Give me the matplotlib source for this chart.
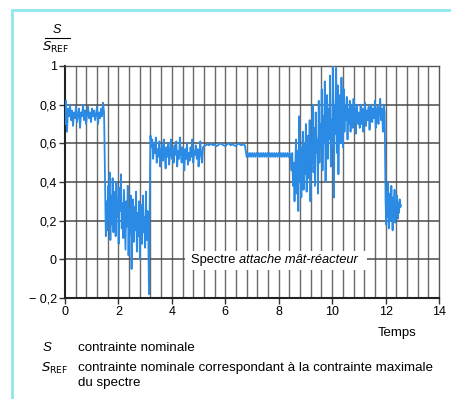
import numpy as np
import matplotlib
matplotlib.use("Agg")
from matplotlib import pyplot as plt
from matplotlib.patches import Rectangle

plt.rcParams['font.family'] = ['Liberation Sans', 'DejaVu Sans']

seg_a = [0.70, 0.82, 0.66, 0.78, 0.74, 0.80, 0.72, 0.77, 0.69, 0.76, 0.73, 0.79, 0.71, 0.75,
         0.78, 0.68, 0.76, 0.74, 0.80, 0.72, 0.77, 0.70, 0.75, 0.79, 0.73, 0.76, 0.71, 0.78,
         0.74, 0.77, 0.72, 0.75, 0.79, 0.70, 0.76, 0.73, 0.78, 0.74, 0.81, 0.76]
seg_b = [0.40, 0.12, 0.30, 0.15, 0.38, 0.20, 0.45, 0.10, 0.33, 0.18, 0.42, 0.14, 0.28, 0.35,
         0.12, 0.40, 0.22, 0.31, 0.08, 0.37, 0.25, 0.44, 0.16, 0.29, 0.11, 0.36, 0.21, 0.05,
         0.30, 0.17, 0.38, 0.02, 0.26, 0.13, 0.33, -0.05, 0.22, 0.31, 0.09, 0.27, 0.15, 0.35,
         0.04, 0.24, 0.12, 0.30, 0.00, 0.20, 0.28, 0.08, 0.33, 0.14, 0.22, 0.06, 0.35, 0.10,
         0.25, 0.18, -0.18, 0.30]
seg_c = [0.64, 0.58, 0.62, 0.52, 0.60, 0.55, 0.63, 0.50, 0.57, 0.53, 0.61, 0.48, 0.56, 0.59,
         0.51, 0.62, 0.54, 0.47, 0.58, 0.53, 0.60, 0.49, 0.55, 0.62, 0.52, 0.57, 0.50, 0.59,
         0.54, 0.61, 0.48, 0.56, 0.52, 0.63, 0.55, 0.50, 0.58, 0.53, 0.46, 0.57, 0.52, 0.60,
         0.49, 0.55, 0.51, 0.58, 0.53, 0.62, 0.50, 0.56, 0.54, 0.59, 0.52, 0.57, 0.48, 0.55,
         0.61, 0.53, 0.50, 0.58]
seg_d = [0.585, 0.59, 0.595, 0.59, 0.60, 0.59, 0.595, 0.585, 0.59, 0.60, 0.595, 0.59, 0.585,
         0.595, 0.60, 0.59, 0.595, 0.59, 0.585, 0.60, 0.595, 0.59, 0.595, 0.59]
seg_e = [0.53, 0.55] * 20
seg_f = [0.53, 0.46, 0.55, 0.38, 0.50, 0.30, 0.48, 0.62, 0.34, 0.56, 0.25, 0.74, 0.40, 0.58,
         0.32, 0.52, 0.66, 0.36, 0.60, 0.44, 0.70, 0.35, 0.55, 0.64, 0.42, 0.72, 0.30, 0.60,
         0.50, 0.80, 0.45, 0.68, 0.38, 0.76, 0.55, 0.62, 0.34, 0.82, 0.50, 0.70, 0.58, 0.88,
         0.46, 0.74, 0.60, 0.92, 0.40, 0.66, 0.85, 0.52, 0.78, 0.62, 0.95, 0.48, 0.72, 0.58,
         1.00, 0.32, 0.80, 0.65, 0.99, 0.55, 0.90, 0.44, 0.76, 0.85, 0.60, 0.94, 0.70, 0.58,
         0.88, 0.66, 0.80, 0.72, 0.84, 0.62, 0.78, 0.70, 0.82, 0.66, 0.76, 0.80, 0.68, 0.83,
         0.72, 0.78, 0.65, 0.80, 0.74, 0.70]
seg_g = [0.76, 0.68, 0.80, 0.70, 0.78, 0.66, 0.75, 0.81, 0.69, 0.77, 0.72, 0.79, 0.67, 0.76,
         0.80, 0.71, 0.78, 0.73, 0.82, 0.68, 0.75, 0.79, 0.70, 0.77, 0.83, 0.72, 0.78, 0.66,
         0.80, 0.76]
seg_h = [0.30, 0.18, 0.35, 0.22, 0.40, 0.16, 0.28, 0.34, 0.20, 0.38, 0.25, 0.15, 0.32, 0.22,
         0.36, 0.19, 0.30, 0.26, 0.33, 0.21, 0.29, 0.24, 0.31, 0.27, 0.28]

segments = [(0.0, 1.5, seg_a), (1.5, 3.2, seg_b), (3.2, 5.2, seg_c), (5.2, 6.8, seg_d),
            (6.8, 8.45, seg_e), (8.45, 11.0, seg_f), (11.0, 12.0, seg_g), (12.0, 12.6, seg_h)]

t = []
s = []
for t0, t1, vals in segments:
    t.extend(np.linspace(t0, t1, len(vals), endpoint=False))
    s.extend(vals)

xticks = [0, 2, 4, 6, 8, 10, 12, 14]
yticks = [-0.2, 0, 0.2, 0.4, 0.6, 0.8, 1]
ylabels = ['\u2212 0,2', '0', '0,2', '0,4', '0,6', '0,8', '1']

W, H = 452, 399
fig = plt.figure(figsize=(W / 100, H / 100), dpi=100)
ax = fig.add_axes([65 / W, 1 - 298 / H, 374 / W, 232 / H])

# vertical grid every 0.4, horizontal every 0.2
for x in np.arange(0.4, 14, 0.4):
    ax.axvline(x, color='#6a6a6a', lw=1.0, zorder=1)
for y in yticks[1:-1]:
    ax.axhline(y, color='#4a4a4a', lw=1.1, zorder=1)

ax.plot(t, s, color='#2a8ae4', lw=1.3, zorder=3)

ax.set_xlim(0, 14)
ax.set_ylim(-0.2, 1)
ax.set_xticks(xticks)
ax.set_xticklabels([str(v) for v in xticks])
ax.set_yticks(yticks)
ax.set_yticklabels(ylabels)
ax.tick_params(labelsize=9, length=4, width=1, color='#333333', pad=2)
for sp in ax.spines.values():
    sp.set_color('#555555')
    sp.set_linewidth(1.0)
ax.spines['left'].set_color('#222222')
ax.spines['bottom'].set_color('#222222')
ax.spines['left'].set_linewidth(1.5)
ax.spines['bottom'].set_linewidth(1.5)

# label box over the grid
ax.add_patch(Rectangle((4.5, -0.055), 6.8, 0.1, facecolor='white', edgecolor='none', zorder=2))
t1 = ax.text(4.72, -0.003, 'Spectre ', fontsize=9.3, va='center', ha='left', zorder=4)
ax.annotate('attache m\u00e2t-r\u00e9acteur', xy=(1, 0), xycoords=t1, va='bottom', ha='left',
            fontsize=9.3, style='italic', zorder=4)

# y label as fraction
fig.text(57 / W, 1 - 30 / H, 'S', style='italic', fontsize=9, ha='center', va='center')
fig.add_artist(plt.Line2D([45 / W, 70 / W], [1 - 38 / H, 1 - 38 / H], color='black', lw=0.8))
fig.text(56 / W, 1 - 47 / H, r'$\mathit{S}_{\mathrm{REF}}$', fontsize=9.5, ha='center', va='center')

fig.text(397 / W, 1 - 333 / H, 'Temps', fontsize=9.5, ha='center', va='center')

# notes below
fig.text(43 / W, 1 - 348 / H, 'S', style='italic', fontsize=9.5, va='center')
fig.text(78 / W, 1 - 348 / H, 'contrainte nominale', fontsize=9.6, va='center')
fig.text(41 / W, 1 - 368 / H, r'$\mathit{S}_{\mathrm{REF}}$', fontsize=9.5, va='center')
fig.text(78 / W, 1 - 368 / H, 'contrainte nominale correspondant \u00e0 la contrainte maximale',
         fontsize=9.6, va='center')
fig.text(78 / W, 1 - 383 / H, 'du spectre', fontsize=9.6, va='center')

# light cyan frame around the figure
fig.add_artist(Rectangle((12 / W, -0.05), 1.1, 1 - 10 / H + 0.05, transform=fig.transFigure,
                         facecolor='none', edgecolor='#8fe6ee', lw=2))

fig.savefig('out.png', dpi=100)
